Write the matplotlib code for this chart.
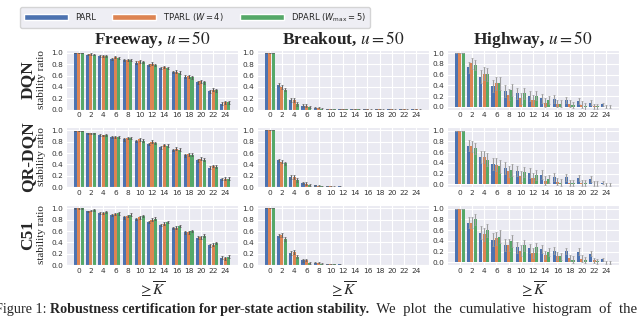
import numpy as np
import matplotlib
matplotlib.use("Agg")
import matplotlib.pyplot as plt
import seaborn as sns
from matplotlib.patches import Patch
from matplotlib.font_manager import FontProperties

sns.set_style("darkgrid")
plt.rcParams['font.family'] = ['DejaVu Sans']
plt.rcParams['mathtext.fontset'] = 'stix'

# x categories: K threshold
ks = [0, 2, 4, 6, 8, 10, 12, 14, 16, 18, 20, 22, 24]
envs = ["Freeway", "Breakout", "Highway"]
models = ["DQN", "QR-DQN", "C51"]
methods = ["PARL", r"TPARL ($W=4$)", r"DPARL ($W_{\max}=5$)"]
colors = ["#4C72B0", "#DD8452", "#55A868"]

# stability ratio, one list per method: [PARL, TPARL, DPARL]
dqn_freeway = [
    [1.00, 0.97, 0.94, 0.90, 0.87, 0.83, 0.79, 0.73, 0.66, 0.58, 0.48, 0.32, 0.10],
    [1.00, 0.98, 0.95, 0.92, 0.88, 0.85, 0.81, 0.75, 0.67, 0.59, 0.50, 0.35, 0.13],
    [1.00, 0.97, 0.94, 0.91, 0.87, 0.84, 0.79, 0.73, 0.65, 0.57, 0.48, 0.34, 0.13],
]
dqn_breakout = [
    [1.00, 0.44, 0.17, 0.07, 0.03, 0.012, 0.006, 0.004, 0.003, 0.002, 0.002, 0.002, 0.001],
    [1.00, 0.40, 0.16, 0.07, 0.03, 0.010, 0.004, 0.003, 0.002, 0.002, 0.001, 0.001, 0.001],
    [1.00, 0.35, 0.10, 0.04, 0.01, 0.003, 0.001, 0.001, 0.000, 0.000, 0.000, 0.000, 0.000],
]
dqn_highway = [
    [1.00, 0.74, 0.56, 0.39, 0.30, 0.25, 0.20, 0.16, 0.15, 0.13, 0.11, 0.08, 0.05],
    [1.00, 0.81, 0.62, 0.44, 0.23, 0.16, 0.13, 0.08, 0.06, 0.06, 0.04, 0.01, 0.00],
    [1.00, 0.78, 0.61, 0.44, 0.32, 0.25, 0.21, 0.13, 0.06, 0.03, 0.01, 0.01, 0.00],
]
qr_freeway = [
    [0.99, 0.95, 0.92, 0.88, 0.84, 0.81, 0.76, 0.70, 0.65, 0.56, 0.47, 0.34, 0.14],
    [0.99, 0.95, 0.91, 0.89, 0.87, 0.84, 0.80, 0.74, 0.68, 0.58, 0.50, 0.37, 0.15],
    [0.99, 0.95, 0.92, 0.88, 0.86, 0.82, 0.78, 0.73, 0.66, 0.57, 0.48, 0.36, 0.15],
]
qr_breakout = [
    [1.00, 0.47, 0.17, 0.07, 0.03, 0.02, 0.010, 0.005, 0.004, 0.003, 0.002, 0.002, 0.001],
    [1.00, 0.45, 0.17, 0.06, 0.02, 0.01, 0.003, 0.002, 0.002, 0.001, 0.001, 0.001, 0.001],
    [1.00, 0.42, 0.13, 0.04, 0.01, 0.005, 0.001, 0.001, 0.000, 0.000, 0.000, 0.000, 0.000],
]
qr_highway = [
    [1.00, 0.72, 0.51, 0.38, 0.30, 0.25, 0.21, 0.18, 0.14, 0.13, 0.12, 0.10, 0.03],
    [1.00, 0.71, 0.51, 0.37, 0.24, 0.15, 0.12, 0.07, 0.05, 0.02, 0.03, 0.01, 0.00],
    [1.00, 0.67, 0.46, 0.34, 0.27, 0.23, 0.18, 0.10, 0.03, 0.02, 0.02, 0.01, 0.00],
]
c51_freeway = [
    [1.00, 0.95, 0.92, 0.89, 0.84, 0.81, 0.76, 0.71, 0.65, 0.58, 0.48, 0.35, 0.13],
    [1.00, 0.96, 0.92, 0.90, 0.87, 0.84, 0.80, 0.73, 0.66, 0.58, 0.49, 0.36, 0.12],
    [1.00, 0.97, 0.94, 0.91, 0.89, 0.86, 0.82, 0.76, 0.69, 0.60, 0.52, 0.39, 0.15],
]
c51_breakout = [
    [1.00, 0.52, 0.21, 0.08, 0.04, 0.02, 0.010, 0.005, 0.004, 0.003, 0.002, 0.002, 0.001],
    [1.00, 0.53, 0.23, 0.09, 0.04, 0.02, 0.005, 0.003, 0.002, 0.002, 0.001, 0.001, 0.001],
    [1.00, 0.46, 0.15, 0.04, 0.02, 0.01, 0.001, 0.001, 0.000, 0.000, 0.000, 0.000, 0.000],
]
c51_highway = [
    [1.00, 0.74, 0.55, 0.42, 0.33, 0.28, 0.26, 0.25, 0.22, 0.21, 0.20, 0.16, 0.06],
    [1.00, 0.74, 0.52, 0.45, 0.33, 0.22, 0.17, 0.14, 0.12, 0.08, 0.07, 0.04, 0.00],
    [1.00, 0.80, 0.60, 0.48, 0.40, 0.32, 0.28, 0.19, 0.11, 0.05, 0.04, 0.02, 0.00],
]

# error bar half-lengths, per environment
err_freeway = [0.005, 0.012, 0.015, 0.018, 0.02, 0.02, 0.022, 0.022, 0.022, 0.025, 0.025, 0.025, 0.025]
err_breakout = [0.0, 0.03, 0.035, 0.02, 0.01, 0.005, 0.003, 0.002, 0.001, 0.001, 0.001, 0.001, 0.001]
err_highway = [0.0, 0.10, 0.12, 0.12, 0.11, 0.10, 0.09, 0.08, 0.07, 0.06, 0.06, 0.05, 0.03]

grid = [
    [dqn_freeway, dqn_breakout, dqn_highway],
    [qr_freeway, qr_breakout, qr_highway],
    [c51_freeway, c51_breakout, c51_highway],
]
errs = [err_freeway, err_breakout, err_highway]
ecolors = ["0.35", "0.4", "0.62"]

W, H = 640, 317
fig = plt.figure(figsize=(6.4, 3.17), dpi=100)

col_left = [66, 257, 447]
col_w = 172
row_top = [49.5, 127, 205]
row_h = 60

x = np.array(ks)
bw = 0.55
for r in range(3):
    for c in range(3):
        ax = fig.add_axes([col_left[c] / W, 1 - (row_top[r] + row_h) / H, col_w / W, row_h / H])
        for i in range(3):
            ax.bar(x + (i - 1) * bw, grid[r][c][i], bw * 0.92, yerr=errs[c], color=colors[i],
                   linewidth=0, ecolor=ecolors[c],
                   error_kw=dict(elinewidth=0.8, capsize=0.8, capthick=0.5))
        ax.set_xticks(ks)
        ax.set_xlim(-2.08, 26.08)
        ax.set_yticks([0, 0.2, 0.4, 0.6, 0.8, 1.0])
        if c == 2:
            ax.set_ylim(-0.05, 1.07)
        else:
            ax.set_ylim(0, 1.06)
        ax.tick_params(labelsize=5.3, colors="0.2", pad=2, length=0)
        if r == 0:
            ax.set_title(envs[c] + r", $u=50$", fontsize=12.5, fontweight="bold",
                         family="Liberation Serif", pad=4)

# row labels
for r in range(3):
    yc = 1 - (row_top[r] + row_h / 2) / H
    fig.text(28 / W, yc, models[r], rotation=90, ha="center", va="center",
             fontsize=12.5, fontweight="bold", family="Liberation Serif")
    fig.text(41 / W, yc, "stability ratio", rotation=90, ha="center", va="center",
             fontsize=8, family="Liberation Serif")

# column x labels
for c in range(3):
    fig.text((col_left[c] + col_w / 2) / W, 1 - 289 / H, r"$\geq \overline{K}$",
             ha="center", va="center", fontsize=11)

# legend
handles = [Patch(facecolor=col) for col in colors]
fig.legend(handles, methods, loc="upper left", bbox_to_anchor=(16 / W, 1 - 3 / H),
           ncol=3, prop=FontProperties(size=6, math_fontfamily="dejavusans"),
           handlelength=5.2, handletextpad=0.85, columnspacing=2.0,
           frameon=True, borderpad=0.5)

# caption fragment (justified text in the paper, so words are spread out)
cap = fig.add_axes([0, 0, 1, 1])
cap.axis("off")
cap.patch.set_alpha(0)
t1 = cap.text(-5 / W, 1 - 309 / H, "Figure 1: ", fontsize=10.2, family="Liberation Serif",
              va="center", ha="left", transform=fig.transFigure)
t2 = cap.annotate("Robustness certification for per-state action stability.",
                  xy=(1, 0), xycoords=t1, va="bottom", ha="left", fontsize=10.2,
                  fontweight="bold", family="Liberation Serif", annotation_clip=False)
cap.annotate("  We  plot  the  cumulative  histogram  of  the  stability",
             xy=(1, 0), xycoords=t2, va="bottom", ha="left", fontsize=10.6,
             family="Liberation Serif", annotation_clip=False)

fig.savefig("out.png", dpi=100)
